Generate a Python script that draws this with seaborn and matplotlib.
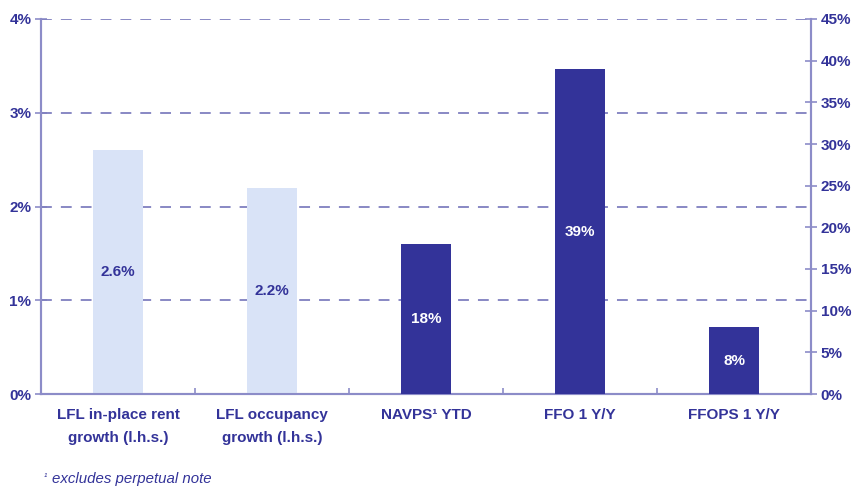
import matplotlib
matplotlib.use("Agg")
import matplotlib.pyplot as plt
import seaborn as sns
import pandas as pd
from matplotlib.ticker import FixedLocator, FuncFormatter

categories = ["LFL in-place rent\ngrowth (l.h.s.)", "LFL occupancy\ngrowth (l.h.s.)",
              "NAVPS\u00b9 YTD", "FFO 1 Y/Y", "FFOPS 1 Y/Y"]
values = [2.6, 2.2, 18, 39, 8]
axis_side = ["lhs", "lhs", "rhs", "rhs", "rhs"]
value_labels = ["2.6%", "2.2%", "18%", "39%", "8%"]
left_ticks = [0, 1, 2, 3, 4]
right_ticks = [0, 5, 10, 15, 20, 25, 30, 35, 40, 45]

df = pd.DataFrame({"category": categories, "value": values, "side": axis_side})

sns.set_theme(style="white")
plt.rcParams["font.family"] = ["Liberation Sans", "DejaVu Sans"]

DARK = "#333399"
LIGHT = "#D9E3F7"
AXC = "#8C8CC8"
GRIDC = "#7F7FBF"
FS = 11

fig = plt.figure(figsize=(8.52, 4.87), dpi=100)
ax = fig.add_axes([41/852, 1 - 394/487, (811-41)/852, (394-19)/487])
ax2 = ax.twinx()

lhs = df[df.side == "lhs"]
rhs = df[df.side == "rhs"]
sns.barplot(data=lhs, x="category", y="value", order=categories, color=LIGHT,
            width=0.32, saturation=1, ax=ax, zorder=3, linewidth=0)
sns.barplot(data=rhs, x="category", y="value", order=categories, color=DARK,
            width=0.32, saturation=1, ax=ax2, zorder=3, linewidth=0)

ax.set_ylim(0, 4)
ax2.set_ylim(0, 45)
ax.set_xlim(-0.5, 4.5)

ax.set_yticks(left_ticks)
ax.yaxis.set_major_formatter(FuncFormatter(lambda v, p: f"{int(v)}%"))
ax2.set_yticks(right_ticks)
ax2.yaxis.set_major_formatter(FuncFormatter(lambda v, p: f"{int(v)}%"))

# grid lines (left scale)
for t in left_ticks[1:]:
    ax.axhline(t, color=GRIDC, lw=1.3, ls=(0, (6, 5)), zorder=1)

# x ticks: marks at boundaries, labels at centers
ax.xaxis.set_major_locator(FixedLocator([0.5, 1.5, 2.5, 3.5]))
ax.xaxis.set_major_formatter(FuncFormatter(lambda v, p: ""))
ax.xaxis.set_minor_locator(FixedLocator([0, 1, 2, 3, 4]))
ax.set_xticklabels(categories, minor=True)
ax.tick_params(axis="x", which="minor", length=0, pad=10, labelsize=FS,
               labelcolor=DARK)
ax.tick_params(axis="x", which="major", length=4, width=1.2, color=AXC,
               direction="in", bottom=True)
for lab in ax.get_xticklabels(minor=True):
    lab.set_fontweight("bold")
    lab.set_linespacing(1.85)
    lab.set_verticalalignment("top")

ax.set_xlabel("")
ax.set_ylabel("")
ax2.set_ylabel("")

ax.tick_params(axis="y", direction="inout", length=8, width=1.2, color=AXC,
               labelsize=FS, labelcolor=DARK, pad=3, left=True)
ax2.tick_params(axis="y", direction="inout", length=8, width=1.2, color=AXC,
                labelsize=FS, labelcolor=DARK, pad=3, right=True)
for lab in ax.get_yticklabels() + ax2.get_yticklabels():
    lab.set_fontweight("bold")

for a in (ax, ax2):
    a.spines["top"].set_visible(False)
    for s in ("left", "right", "bottom"):
        a.spines[s].set_color(AXC)
        a.spines[s].set_linewidth(1.5)
    a.grid(False)

ax.set_zorder(ax2.get_zorder() - 1)
ax2.patch.set_visible(False)
ax.patch.set_visible(True)
ax.patch.set_facecolor("white")

# value labels centered within bars
for i, (v, s, lab) in enumerate(zip(values, axis_side, value_labels)):
    if s == "lhs":
        ax.text(i, v / 2, lab, ha="center", va="center", color=DARK,
                fontsize=FS, fontweight="bold", zorder=5)
    else:
        ax2.text(i, v / 2, lab, ha="center", va="center", color="white",
                 fontsize=FS, fontweight="bold", zorder=5)

fig.text(44/852, 1 - 480/487, "\u00b9", fontsize=7, color=DARK, style="italic",
         va="baseline", ha="left")
fig.text(52/852, 1 - 483/487, "excludes perpetual note", fontsize=10.8, color=DARK,
         style="italic", va="baseline", ha="left")

fig.savefig("out.png", dpi=100, facecolor="white")
